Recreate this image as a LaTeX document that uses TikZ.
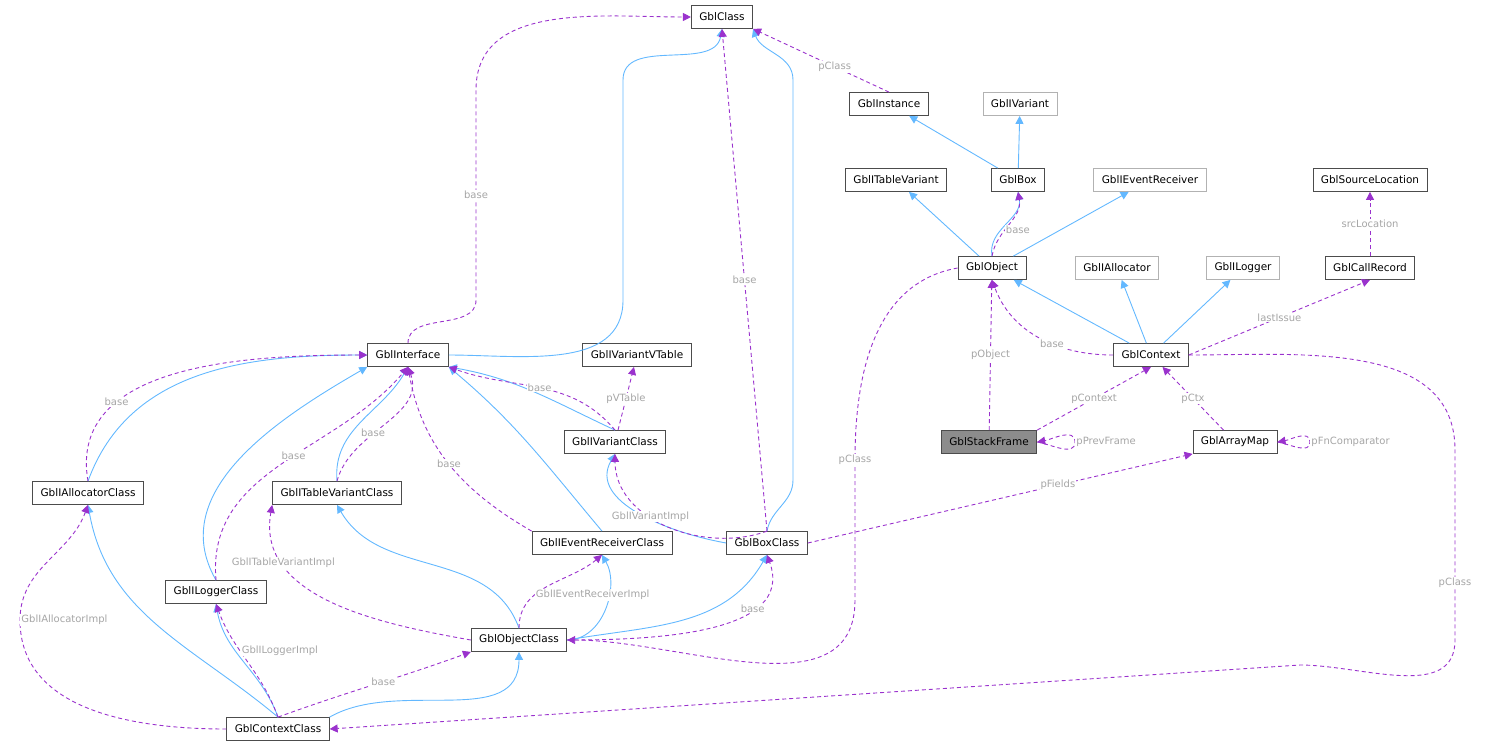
\documentclass[tikz,border=0pt]{standalone}
\usepackage{fontspec}
\setmainfont{DejaVu Sans}
\usetikzlibrary{arrows.meta}
\definecolor{inhblue}{HTML}{63B8FF}
\definecolor{usepurple}{HTML}{9A32CD}
\begin{document}
\begin{tikzpicture}[x=1pt,y=-1pt,
  cls/.style={draw=black!70, fill=white, minimum height=23pt, inner xsep=8pt, line width=0.8pt, font=\fontsize{10.5}{12}\selectfont},
  ext/.style={cls, draw=black!30},
  inh/.style={draw=inhblue, line width=0.9pt, -{Triangle[width=8pt,length=8pt]}},
  use/.style={draw=usepurple, line width=0.9pt, dash pattern=on 4pt off 3pt, -{Triangle[width=8pt,length=8pt]}},
  lbl/.style={text=black!35, font=\fontsize{10}{11}\selectfont, fill=white, inner sep=1pt}]
\useasboundingbox (0,0) rectangle (1509,748);
% nodes
\node[cls] (cls) at (722,17) {GblClass};
\node[cls] (inst) at (889,104) {GblInstance};
\node[ext] (ivar) at (1020,104) {GblIVariant};
\node[cls] (itv) at (896,180) {GblITableVariant};
\node[cls] (box) at (1018,180) {GblBox};
\node[ext] (iev) at (1150,180) {GblIEventReceiver};
\node[cls] (src) at (1370,180) {GblSourceLocation};
\node[cls] (obj) at (992,268) {GblObject};
\node[ext] (ialloc) at (1117,268) {GblIAllocator};
\node[ext] (ilog) at (1243,268) {GblILogger};
\node[cls] (call) at (1370,268) {GblCallRecord};
\node[cls] (iface) at (408,355) {GblInterface};
\node[cls] (vtbl) at (637,355) {GblIVariantVTable};
\node[cls] (ctx) at (1151,355) {GblContext};
\node[cls, fill=black!45] (frame) at (989,442) {GblStackFrame};
\node[cls] (amap) at (1235,442) {GblArrayMap};
\node[cls] (ivc) at (615,442) {GblIVariantClass};
\node[cls] (iac) at (88,493) {GblIAllocatorClass};
\node[cls] (itvc) at (337,493) {GblITableVariantClass};
\node[cls] (ievc) at (602,543) {GblIEventReceiverClass};
\node[cls] (boxc) at (767,543) {GblBoxClass};
\node[cls] (ilc) at (216,592) {GblILoggerClass};
\node[cls] (objc) at (519,640) {GblObjectClass};
\node[cls] (ctxc) at (278,729) {GblContextClass};
% inheritance
\draw[inh] (box) -- (inst);
\draw[inh] (box) -- (ivar);
\draw[inh] (obj) -- (itv);
\draw[inh] (obj.north) to[out=100,in=-80] (box.south);
\draw[inh] (obj) -- (iev);
\draw[inh] (ctx) -- (obj);
\draw[inh] (ctx) -- (ialloc);
\draw[inh] (ctx) -- (ilog);
\draw[inh] (iface.east) to[out=0,in=-90] (623,300) -- (623,80) to[out=90,in=-100] (cls.south);
\draw[inh] (boxc.north) to[out=80,in=-90] (793,480) -- (793,80) to[out=90,in=-70] (cls.south east);
\draw[inh] (ivc.north) to[out=155,in=-10] (iface.south east);
\draw[inh] (iac.north) to[out=70,in=180] (iface.west);
\draw[inh] (itvc.north) to[out=95,in=-120] (iface.south);
\draw[inh] (ilc.north) to[out=120,in=-150] (iface.south west);
\draw[inh] (ievc.north) to[out=130,in=-40] (iface.south east);
\draw[inh] (boxc.west) to[out=170,in=-120] (ivc.south);
\draw[inh] (objc.north) to[out=110,in=-60] (itvc.south);
\draw[inh] (objc.east) to[out=0,in=-60] (ievc.south);
\draw[inh] (objc.east) to[out=10,in=-120] (boxc.south);
\draw[inh] (ctxc.north) to[out=140,in=-80] (iac.south);
\draw[inh] (ctxc.north) to[out=110,in=-80] (ilc.south);
\draw[inh] (ctxc.north east) to[out=30,in=-90] (objc.south);
% usage
\draw[use] (inst.north) -- node[lbl, pos=.4]{pClass} (cls.south east);
\draw[use] (obj.north) to[out=80,in=-80] node[lbl, right, pos=.4]{base} (box.south);
\draw[use] (ctx.west) to[out=180,in=-70] node[lbl, pos=.4]{base} (obj.south);
\draw[use] (ctx.east) -- node[lbl]{lastIssue} (call.south);
\draw[use] (call) -- node[lbl]{srcLocation} (src);
\draw[use] (frame) -- node[lbl]{pObject} (obj);
\draw[use] (frame.north east) -- node[lbl]{pContext} (ctx.south);
\draw[use] (frame.east) to[out=-10,in=-90] (1075,442) node[lbl, right]{pPrevFrame} to[out=90,in=10] (frame.east);
\draw[use] (amap) -- node[lbl]{pCtx} (ctx);
\draw[use] (amap.east) to[out=-10,in=-90] (1310,442) node[lbl, right]{pFnComparator} to[out=90,in=10] (amap.east);
\draw[use] (boxc.east) -- node[lbl, pos=.65]{pFields} (amap.south west);
\draw[use] (iface.north) to[out=90,in=-90] (476,300) -- node[lbl]{base} (476,90) to[out=90,in=180] (cls.west);
\draw[use] (boxc.north) -- node[lbl]{base} (cls.south);
\draw[use] (ivc) -- node[lbl]{pVTable} (vtbl);
\draw[use] (ivc.north) to[out=130,in=-20] node[lbl]{base} (iface.south east);
\draw[use] (iac.north) to[out=100,in=180] node[lbl, pos=.3]{base} (iface.west);
\draw[use] (itvc.north) to[out=75,in=-70] node[lbl, pos=.4]{base} (iface.south);
\draw[use] (ilc.north) to[out=95,in=-130] node[lbl, pos=.55]{base} (iface.south);
\draw[use] (ievc.north west) to[out=150,in=-80] node[lbl]{base} (iface.south);
\draw[use] (boxc.north) to[out=-160,in=-90] node[lbl, pos=.6]{GblIVariantImpl} (ivc.south);
\draw[use] (objc.west) to[out=170,in=-100] node[lbl, pos=.75]{GblITableVariantImpl} (itvc.south west);
\draw[use] (objc.north) to[out=90,in=-140] node[lbl, right, pos=.35]{GblIEventReceiverImpl} (ievc.south);
\draw[use] (objc.east) to[out=0,in=-70] node[lbl, pos=.7]{base} (boxc.south);
\draw[use] (obj.west) to[out=190,in=90] (855,460) node[lbl]{pClass} -- (855,600) to[out=-90,in=0] (objc.east);
\draw[use] (ctxc.north) to[out=20,in=200] node[lbl, pos=.55]{base} (objc.south west);
\draw[use] (ctxc.north) to[out=110,in=-70] node[lbl, right, pos=.6]{GblILoggerImpl} (ilc.south);
\draw[use] (ctxc.west) to[out=180,in=-90] (20,620) node[lbl, right]{GblIAllocatorImpl} to[out=90,in=-110] (iac.south);
\draw[use] (ctx.east) to[out=0,in=90] (1455,450) -- node[lbl, pos=.7]{pClass} (1455,640) to[out=-90,in=0] (1300,665) -- (ctxc.east);
\end{tikzpicture}
\end{document}
